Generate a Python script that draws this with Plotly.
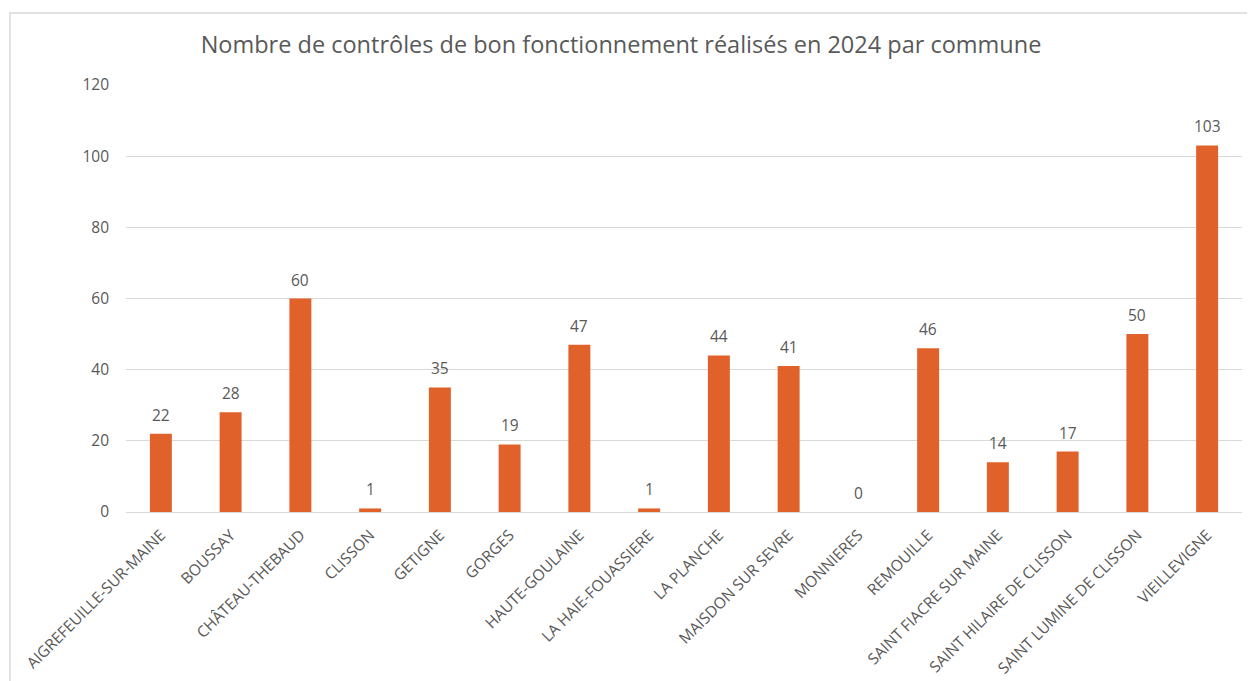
import plotly.graph_objects as go

communes = [
    "AIGREFEUILLE-SUR-MAINE", "BOUSSAY", "CHÂTEAU-THEBAUD", "CLISSON", "GETIGNE",
    "GORGES", "HAUTE-GOULAINE", "LA HAIE-FOUASSIERE", "LA PLANCHE",
    "MAISDON SUR SEVRE", "MONNIERES", "REMOUILLE", "SAINT FIACRE SUR MAINE",
    "SAINT HILAIRE DE CLISSON", "SAINT LUMINE DE CLISSON", "VIEILLEVIGNE",
]
controles = [22, 28, 60, 1, 35, 19, 47, 1, 44, 41, 0, 46, 14, 17, 50, 103]
y_ticks = [0, 20, 40, 60, 80, 100, 120]

title_text = "Nombre de contrôles de bon fonctionnement réalisés en 2024 par commune"

FONT = "Open Sans"
GREY = "#595959"

fig = go.Figure(
    go.Bar(
        x=communes,
        y=controles,
        marker=dict(color="#E0622A", line=dict(width=0)),
        cliponaxis=False,
        hoverinfo="x+y",
    )
)

# data labels above the bars
annotations = [
    dict(
        x=c, y=v, xref="x", yref="y", text=str(v), showarrow=False,
        yanchor="bottom", yshift=6,
        font=dict(family=FONT, size=15.5, color=GREY),
    )
    for c, v in zip(communes, controles)
]

# figure is offset by the page's 8px body margin
W, H = 1247, 673
L, R, T, B = 118, 13, 77, 169
pw, ph = W - L - R, H - T - B

def px_x(p):
    return (p - L) / pw

def px_y(p):
    return (H - B - p) / ph

fig.update_layout(
    width=W,
    height=H,
    margin=dict(l=L, r=R, t=T, b=B, autoexpand=False),
    paper_bgcolor="white",
    plot_bgcolor="white",
    showlegend=False,
    bargap=0.685,
    annotations=annotations,
    title=dict(
        text=title_text,
        font=dict(family=FONT, size=23.5, color=GREY),
        x=(613) / W, xref="container", xanchor="center",
        y=1 - 37 / H, yref="container", yanchor="middle",
    ),
    xaxis=dict(
        tickangle=-45,
        tickfont=dict(family=FONT, size=15.5, color=GREY),
        showgrid=False,
        showline=True,
        linecolor="#d9d9d9",
        linewidth=1,
        ticks="",
        ticklabelstandoff=7,
    ),
    yaxis=dict(
        range=[0, 120],
        tickvals=y_ticks,
        tickfont=dict(family=FONT, size=15.5, color=GREY),
        showgrid=True,
        gridcolor="#d9d9d9",
        gridwidth=1,
        zeroline=False,
        showline=False,
        ticks="",
        ticklabelstandoff=16,
    ),
    shapes=[
        dict(
            type="rect", xref="paper", yref="paper",
            x0=px_x(2), x1=px_x(1262), y0=px_y(700), y1=px_y(5),
            line=dict(color="#d9d9d9", width=1.5),
            fillcolor="rgba(0,0,0,0)", layer="below",
        )
    ],
)

fig.write_html("out.html")
